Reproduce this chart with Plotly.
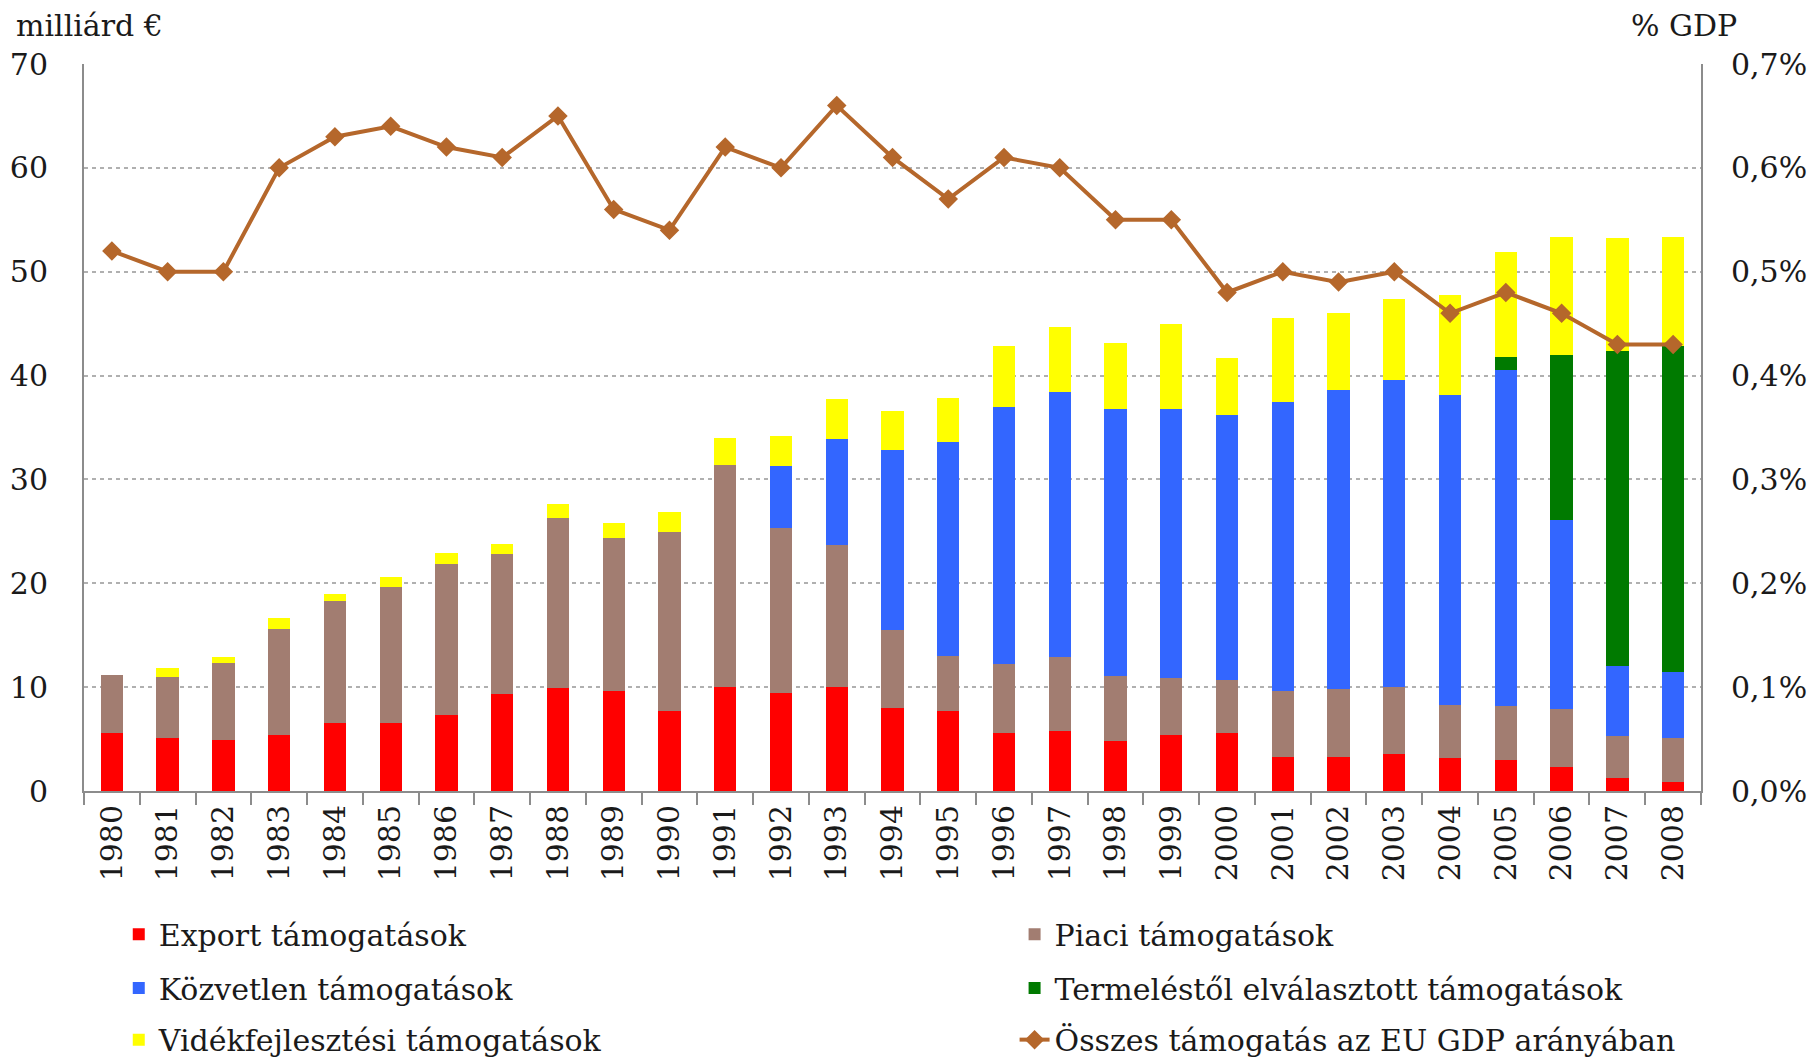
import plotly.graph_objects as go

years = [str(y) for y in range(1980, 2009)]

export_vals = [5.6, 5.1, 4.9, 5.4, 6.5, 6.5, 7.3, 9.3, 9.9, 9.6,
               7.7, 10.0, 9.4, 10.0, 8.0, 7.7, 5.6, 5.8, 4.8, 5.4,
               5.6, 3.3, 3.3, 3.6, 3.2, 3.0, 2.35, 1.3, 0.9]
piaci_vals = [5.6, 5.85, 7.4, 10.2, 11.8, 13.1, 14.6, 13.5, 16.4, 14.75,
              17.2, 21.4, 15.9, 13.7, 7.5, 5.3, 6.6, 7.1, 6.3, 5.5,
              5.1, 6.3, 6.5, 6.4, 5.1, 5.2, 5.5, 3.95, 4.25]
kozvetlen_vals = [0, 0, 0, 0, 0, 0, 0, 0, 0, 0,
                  0, 0, 6.0, 10.2, 17.3, 20.6, 24.8, 25.5, 25.7, 25.9,
                  25.5, 27.9, 28.8, 29.6, 29.8, 32.3, 18.2, 6.75, 6.3]
termeles_vals = [0, 0, 0, 0, 0, 0, 0, 0, 0, 0,
                 0, 0, 0, 0, 0, 0, 0, 0, 0, 0,
                 0, 0, 0, 0, 0, 1.3, 15.9, 30.4, 31.35]
videk_vals = [0, 0.85, 0.65, 1.1, 0.7, 1.0, 1.0, 1.0, 1.3, 1.5,
              2.0, 2.6, 2.9, 3.8, 3.8, 4.2, 5.8, 6.3, 6.3, 8.2,
              5.5, 8.0, 7.45, 7.8, 9.65, 10.1, 11.4, 10.8, 10.5]
gdp_share = [0.52, 0.50, 0.50, 0.60, 0.63, 0.64, 0.62, 0.61, 0.65, 0.56,
             0.54, 0.62, 0.60, 0.66, 0.61, 0.57, 0.61, 0.60, 0.55, 0.55,
             0.48, 0.50, 0.49, 0.50, 0.46, 0.48, 0.46, 0.43, 0.43]

left_ticks = [0, 10, 20, 30, 40, 50, 60, 70]
right_ticks = [0.0, 0.1, 0.2, 0.3, 0.4, 0.5, 0.6, 0.7]
right_ticktext = ["0,0%", "0,1%", "0,2%", "0,3%", "0,4%", "0,5%", "0,6%", "0,7%"]

FONT = "DejaVu Serif"
TXT = "#1a1a1a"
AXC = "#8c8c8c"

fig = go.Figure()
bars = [
    ("Export támogatások", export_vals, "#FF0000", "legend"),
    ("Piaci támogatások", piaci_vals, "#A27D71", "legend2"),
    ("Közvetlen támogatások", kozvetlen_vals, "#3366FF", "legend3"),
    ("Termeléstől elválasztott támogatások", termeles_vals, "#007A00", "legend4"),
    ("Vidékfejlesztési támogatások", videk_vals, "#FFFF00", "legend5"),
]
for name, vals, col, lg in bars:
    fig.add_trace(go.Bar(x=years, y=vals, name=name, marker_color=col,
                         marker_line_width=0, legend=lg))

fig.add_trace(go.Scatter(x=years, y=gdp_share, name="Összes támogatás az EU GDP arányában",
                         mode="lines+markers", yaxis="y2", legend="legend6",
                         line=dict(color="#B5672B", width=4),
                         marker=dict(symbol="diamond", size=15, color="#B5672B")))

def leg(x, y):
    return dict(orientation="v", x=x, y=y, xanchor="left", yanchor="middle",
                font=dict(family=FONT, size=30, color=TXT),
                bgcolor="rgba(0,0,0,0)", borderwidth=0)

col1, col2 = 0.0215, 0.5755
row1, row2, row3 = -0.197, -0.271, -0.342

fig.update_layout(
    width=1810, height=1051,
    paper_bgcolor="white", plot_bgcolor="white",
    margin=dict(l=76, r=117, t=56, b=268, autoexpand=False),
    barmode="stack", bargap=0.6,
    showlegend=True,
    font=dict(family=FONT, color=TXT),
    xaxis=dict(type="category", range=[-0.5, 28.5], tickangle=-90,
               showline=True, linecolor=AXC, linewidth=2,
               ticks="outside", tickson="boundaries", ticklen=12, tickcolor=AXC, tickwidth=2,
               tickfont=dict(family=FONT, size=30, color=TXT), showgrid=False),
    yaxis=dict(range=[0, 70], tickvals=left_ticks, showline=True, linecolor=AXC, linewidth=2,
               showgrid=True, gridcolor="#b0b0b0", griddash="4px,4px", gridwidth=1.5,
               zeroline=False, ticks="", ticklabelstandoff=28,
               tickfont=dict(family=FONT, size=30, color=TXT)),
    yaxis2=dict(range=[0, 0.7], overlaying="y", side="right", tickvals=right_ticks,
                ticktext=right_ticktext, showline=True, linecolor=AXC, linewidth=2,
                showgrid=False, zeroline=False, ticks="", ticklabelstandoff=22,
                tickfont=dict(family=FONT, size=30, color=TXT)),
    legend=leg(col1, row1),
    legend2=leg(col2, row1),
    legend3=leg(col1, row2),
    legend4=leg(col2, row2),
    legend5=leg(col1, row3),
    legend6=leg(col2, row3),
    annotations=[
        dict(text="milliárd €", xref="paper", yref="paper", x=0, xshift=-70, y=1.0, yshift=39,
             xanchor="left", yanchor="middle", showarrow=False,
             font=dict(family=FONT, size=30, color=TXT)),
        dict(text="% GDP", xref="paper", yref="paper", x=1, xshift=38, y=1.0, yshift=39,
             xanchor="right", yanchor="middle", showarrow=False,
             font=dict(family=FONT, size=30, color=TXT)),
    ],
)

fig.write_html("out.html")
